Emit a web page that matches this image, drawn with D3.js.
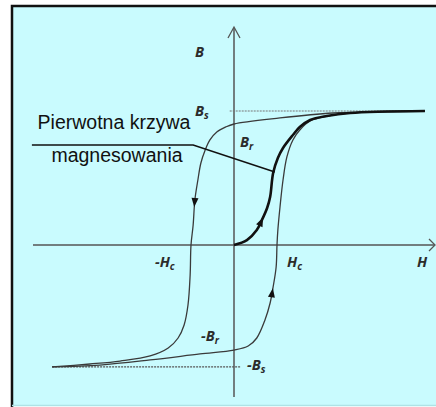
<!DOCTYPE html>
<html>
<head>
<meta charset="utf-8">
<script src="https://cdn.jsdelivr.net/npm/d3@7/dist/d3.min.js"></script>
<style>
  body { margin: 0; background: #fff; }
  svg { display: block; }
</style>
</head>
<body>
<div id="chart"></div>
<script>
// hysteresis loop, values (H in units of Hc, B in units of Bs)
const descending = [
  [4.44, 1.0], [3.40, 0.993], [2.30, 0.985], [1.07, 0.948], [0, 0.903],
  [-0.19, 0.881], [-0.40, 0.843], [-0.56, 0.784], [-0.67, 0.709], [-0.77, 0.612],
  [-0.84, 0.485], [-0.91, 0.336], [-0.95, 0.149], [-1.0, 0], [-1.02, -0.224],
  [-1.07, -0.448], [-1.16, -0.597], [-1.30, -0.694], [-1.53, -0.769], [-1.95, -0.828],
  [-2.65, -0.866], [-3.35, -0.888], [-4.23, -0.91]
];
const ascending = [
  [-4.23, -0.91], [-3.12, -0.896], [-1.95, -0.858], [-0.79, -0.813], [0, -0.784],
  [0.33, -0.754], [0.53, -0.694], [0.72, -0.56], [0.84, -0.433], [0.91, -0.313],
  [0.98, -0.164], [1.0, 0], [1.02, 0.112], [1.07, 0.284], [1.14, 0.485],
  [1.23, 0.657], [1.37, 0.784], [1.53, 0.858], [1.77, 0.925], [2.30, 0.970],
  [3.09, 0.993], [4.44, 1.0]
];
const initial = [
  [0, 0], [0.30, 0.037], [0.53, 0.112], [0.65, 0.187], [0.77, 0.276],
  [0.84, 0.358], [0.91, 0.537], [1.02, 0.649], [1.14, 0.724], [1.37, 0.821],
  [1.53, 0.88], [1.77, 0.933], [2.16, 0.963], [2.70, 0.985], [4.44, 1.0]
];
const leader = [[-4.70, 0.746], [-0.95, 0.746], [0.95, 0.545]];

// characteristic values
const Bs = 1.0, Br = 0.903, Hc = 1.0, negBs = -0.91, negBr = -0.784, negHc = -1.0;
const satLeft = -4.23, satRight = 4.44;
// arrows on the loop: [curve, B value where the arrow sits]
const arrowAt = [["descending", 0.32], ["initial", 0.17], ["ascending", -0.36]];
const labelLines = ["Pierwotna krzywa", "magnesowania"];

const width = 436, height = 407;
const svg = d3.select("#chart").append("svg")
  .attr("width", width).attr("height", height);

// frame
svg.append("rect").attr("x", 12).attr("y", 6).attr("width", width - 12).attr("height", 400)
  .attr("fill", "#c9fbfe");
svg.append("path").attr("d", "M12,407 V6 H436").attr("fill", "none")
  .attr("stroke", "#111").attr("stroke-width", 2.5);
svg.append("line").attr("x1", 12).attr("x2", 436).attr("y1", 405.5).attr("y2", 405.5)
  .attr("stroke", "#aee3e6").attr("stroke-width", 1.5);

const x = d3.scaleLinear().domain([-4, 4]).range([62, 406]);
const y = d3.scaleLinear().domain([-1, 1]).range([379, 111]);

const line = d3.line().x(d => x(d[0])).y(d => y(d[1])).curve(d3.curveCatmullRom.alpha(0.5));

// axes
const axisColor = "#555";
svg.append("line").attr("x1", 33).attr("x2", 434).attr("y1", y(0)).attr("y2", y(0))
  .attr("stroke", axisColor).attr("stroke-width", 1.5);
svg.append("path").attr("d", `M429,${y(0) - 6} L435,${y(0)} L429,${y(0) + 6}`)
  .attr("fill", "none").attr("stroke", axisColor).attr("stroke-width", 1.3);
svg.append("line").attr("x1", x(0)).attr("x2", x(0)).attr("y1", 28).attr("y2", 397)
  .attr("stroke", axisColor).attr("stroke-width", 1.5);
svg.append("path").attr("d", `M${x(0) - 6},38 L${x(0)},27 L${x(0) + 6},38`)
  .attr("fill", "none").attr("stroke", axisColor).attr("stroke-width", 1.3);

// saturation dashed lines
svg.append("line").attr("x1", x(-0.1)).attr("x2", x(satRight)).attr("y1", y(Bs)).attr("y2", y(Bs))
  .attr("stroke", "#777").attr("stroke-width", 1.2).attr("stroke-dasharray", "2,1");
svg.append("line").attr("x1", x(satLeft)).attr("x2", x(0.15)).attr("y1", y(negBs)).attr("y2", y(negBs))
  .attr("stroke", "#555").attr("stroke-width", 1.2).attr("stroke-dasharray", "2,1");

// curves
const paths = {};
paths.descending = svg.append("path").datum(descending).attr("d", line)
  .attr("fill", "none").attr("stroke", "#3a3a3a").attr("stroke-width", 1.3);
paths.ascending = svg.append("path").datum(ascending).attr("d", line)
  .attr("fill", "none").attr("stroke", "#3a3a3a").attr("stroke-width", 1.3);
paths.initial = svg.append("path").datum(initial).attr("d", line)
  .attr("fill", "none").attr("stroke", "#111").attr("stroke-width", 2.6);

// arrowheads along curves
arrowAt.forEach(([name, b]) => {
  const node = paths[name].node();
  const total = node.getTotalLength();
  const ty = y(b);
  let best = 0, bestDist = Infinity;
  for (let l = 0; l <= total; l += 0.5) {
    const p = node.getPointAtLength(l);
    const dd = Math.abs(p.y - ty);
    if (dd < bestDist) { bestDist = dd; best = l; }
  }
  const p = node.getPointAtLength(best);
  const q = node.getPointAtLength(Math.min(total, best + 2));
  const ang = Math.atan2(q.y - p.y, q.x - p.x) * 180 / Math.PI;
  svg.append("path").attr("d", "M5,0 L-4,-3.5 L-4,3.5 Z")
    .attr("transform", `translate(${p.x},${p.y}) rotate(${ang})`)
    .attr("fill", "#111");
});

// leader line for the annotation
svg.append("path").datum(leader)
  .attr("d", d3.line().x(d => x(d[0])).y(d => y(d[1])))
  .attr("fill", "none").attr("stroke", "#111").attr("stroke-width", 1.5);

svg.selectAll("text.note").data(labelLines).enter().append("text")
  .attr("class", "note")
  .attr("x", (d, i) => i === 0 ? 114 : 117)
  .attr("y", (d, i) => i === 0 ? 129 : 162)
  .attr("text-anchor", "middle")
  .attr("font-family", "'Liberation Sans', Arial, sans-serif")
  .attr("font-size", 19.5)
  .attr("fill", "#111")
  .text(d => d);

// italic symbol labels
function sym(main, sub, px, py) {
  const t = svg.append("text")
    .attr("x", px).attr("y", py)
    .attr("font-family", "'Open Sans', 'Liberation Sans', sans-serif")
    .attr("font-weight", "bold").attr("font-style", "italic")
    .attr("font-size", 14.5).attr("fill", "#2b2b2b");
  t.append("tspan").text(main);
  if (sub) t.append("tspan").attr("font-size", 10).attr("dy", 3).text(sub);
}
sym("B", null, x(0) - 39, 57);
sym("B", "s", x(0) - 39, y(Bs) + 5);
sym("B", "r", x(0) + 6, y(Br) + 23);
sym("-H", "c", x(negHc) - 36, 267);
sym("H", "c", x(Hc) + 10, 267);
sym("H", null, 417, 267);
sym("-B", "r", x(0) - 33, y(negBr) - 9);
sym("-B", "s", x(0) + 13, y(negBs) + 3);
</script>
</body>
</html>
